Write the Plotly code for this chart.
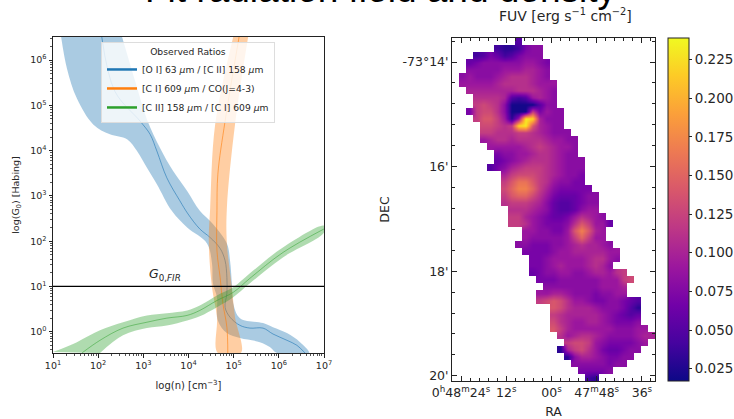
import numpy as np
import plotly.graph_objects as go

# Left panel: log10 values
BLUE_X = [2.08,2.37,2.93,3.15,3.30,3.52,3.81,3.99,4.25,4.48,4.70,4.81,4.85,4.85,4.81,4.92,5.14,5.36,5.65,5.87,6.18,6.40,6.58]
BLUE_Y = [6.51,5.31,4.65,4.36,3.99,3.40,2.89,2.60,2.27,2.08,1.84,1.57,1.20,0.85,0.54,0.32,0.14,0.08,0.08,-0.05,-0.19,-0.30,-0.47]
BLUE_LO_X = [1.18,1.31,1.53,1.89,2.26,2.64,2.86,3.08,3.30,3.63,3.97,4.41,4.52,4.54,4.63,4.65,4.85,5.14,5.58,5.80,5.96]
BLUE_LO_Y = [6.51,5.81,5.15,4.58,4.36,4.25,3.99,3.62,3.26,2.67,2.30,1.95,1.51,1.07,0.76,0.25,-0.03,-0.14,-0.23,-0.34,-0.47]
BLUE_HI_X = [2.53,2.82,3.08,3.37,3.66,3.97,4.25,4.54,4.85,4.92,4.96,4.99,5.14,5.65,5.87,6.18,6.47,6.67]
BLUE_HI_Y = [6.51,5.53,4.69,4.06,3.55,3.11,2.67,2.38,1.95,1.57,1.07,0.63,0.30,0.19,0.10,-0.03,-0.23,-0.47]

ORANGE_X = [5.12,4.81,4.65,4.63,4.63,4.70,4.76,4.85,4.87]
ORANGE_Y = [6.51,4.65,3.48,2.67,1.79,1.20,0.63,0.10,-0.47]
ORANGE_LO_X = [4.99,4.59,4.48,4.45,4.52,4.63,4.65]
ORANGE_HI_X = [5.32,5.03,4.85,4.85,4.96,5.03,5.16]
ORANGE_BAND_Y = [6.51,4.58,2.74,1.95,0.98,0.32,-0.47]

GREEN_X = [1.64,2.04,2.55,3.08,3.52,3.97,4.25,4.63,4.99,5.36,6.09,7.0]
GREEN_Y = [-0.47,-0.19,0.08,0.21,0.30,0.36,0.47,0.69,0.87,1.18,1.75,2.27]
GREEN_HI_X = [1.0,1.53,2.04,2.55,3.08,3.52,3.97,4.25,4.63,4.99,5.36,6.09,7.0]
GREEN_HI_Y = [-0.45,-0.23,0.03,0.21,0.36,0.41,0.47,0.58,0.80,0.98,1.29,1.86,2.34]
GREEN_LO_X = [2.04,2.55,3.08,3.52,3.97,4.25,4.63,4.99,5.36,6.09,7.0]
GREEN_LO_Y = [-0.47,-0.08,0.08,0.14,0.25,0.34,0.54,0.76,1.07,1.64,2.19]

G0_FIR = 10
LEGEND_NAMES = ["[O I] 63 <i>μ</i>m / [C II] 158 <i>μ</i>m", "[C I] 609 <i>μ</i>m / CO(J=4-3)", "[C II] 158 <i>μ</i>m / [C I] 609 <i>μ</i>m"]

# Right panel: FUV map, in units of 0.01, row by row from the top
FUV_START = [9,6,3,2,2,1,1,2,3,3,2,3,4,4,4,5,6,6,5,7,7,7,7,7,8,8,8,10,10,9,10,11,11,11,12,13,12,12,14,14,14,14,15,16,15,16,17,18,19]
FUV_ROWS = [
 [5],
 [4,3,3,4,7,8,8],
 [4,5,7,6,4,5,7,8,8,8],
 [6,7,8,8,8,8,8,8,9,9,8,7],
 [8,8,8,8,8,9,9,9,10,10,9,8],
 [8,9,8,8,8,9,10,11,11,11,10,9,8],
 [9,9,9,9,9,10,11,11,11,11,10,9,9,9],
 [10,10,10,10,10,10,10,11,11,11,10,9,8],
 [11,11,11,11,10,5,4,5,9,10,9,8],
 [12,13,12,11,8,2,2,2,2,5,8,8],
 [7,12,13,13,11,8,2,2,2,12,7,9,8,8],
 [12,14,14,12,9,3,9,23,22,10,8,8,8],
 [13,13,12,11,12,22,23,14,10,9,8,8],
 [12,12,11,11,11,12,12,11,10,9,8,8,8],
 [9,10,11,11,10,11,11,11,11,10,9,9,8,8],
 [9,9,9,9,9,10,11,12,11,10,9,9,8],
 [7,8,8,9,9,10,11,11,10,9,8,8],
 [6,7,8,9,10,11,11,11,10,9,8,8,8],
 [5,7,8,10,11,12,12,12,11,10,9,8,8,8],
 [10,12,13,13,13,12,11,10,9,8,8,7],
 [12,14,16,16,14,12,11,9,8,8,7,7],
 [13,15,17,17,15,12,10,8,7,7,7,7,7],
 [12,14,15,15,13,11,9,7,6,6,6,7,8,8],
 [11,12,12,12,11,10,8,6,5,5,6,7,8,8],
 [11,11,11,10,9,8,6,5,5,6,8,9,9],
 [12,12,10,9,8,7,6,6,7,9,11,10,9,8],
 [12,12,11,9,8,7,7,7,8,11,14,12,9,9,6],
 [9,9,8,8,7,7,9,14,17,14,10,9],
 [9,8,8,8,8,8,9,12,15,12,9,9],
 [8,8,7,7,7,8,8,9,10,11,10,10,9,8],
 [7,7,7,7,8,9,9,10,10,10,10,10,9,9],
 [7,7,8,9,9,9,9,9,10,11,11,9,8],
 [7,7,8,9,10,9,9,9,10,11,10,8],
 [6,7,8,8,9,9,8,8,9,10,10,9,11,12],
 [7,7,7,8,8,8,8,8,8,9,9,9,12,13],
 [8,8,8,8,8,8,8,8,9,9,9,10],
 [9,9,10,10,9,8,8,8,7,8,8,9,9],
 [12,13,14,13,11,9,9,8,7,7,8,8,7,6,5],
 [14,13,11,10,10,10,9,8,8,8,7,5,3],
 [12,11,10,10,10,10,10,9,8,7,6,5,6],
 [13,11,10,9,9,10,10,9,8,7,7,7,8],
 [14,12,10,9,9,9,9,9,9,8,8,8,9,9],
 [11,9,10,11,11,10,9,8,8,8,8,9,10,10],
 [12,13,13,12,9,8,7,7,7,7,8,9],
 [3,10,12,13,11,9,7,6,6,7,8,8],
 [3,8,10,10,9,8,7,7,8,8],
 [8,8,8,8,8,7,8,8],
 [7,7,7,7,8],
 [4,3],
]
N_COLS = 29
RA_RANGE = [86.4, 32.53]      # seconds after 0h47m
DEC_RANGE = [20.1, 13.54]     # arcmin below -73 deg
RA_TICKS = [84, 72, 60, 48, 36]
RA_LABELS = ["0<sup>h</sup>48<sup>m</sup>24<sup>s</sup>", "12<sup>s</sup>", "00<sup>s</sup>", "47<sup>m</sup>48<sup>s</sup>", "36<sup>s</sup>"]
RA_MINOR = [81.6,79.2,76.8,74.4,69.6,67.2,64.8,62.4,57.6,55.2,52.8,50.4,45.6,43.2,40.8,38.4,33.6]
DEC_TICKS = [14, 16, 18, 20]
DEC_LABELS = ["-73°14'", "16'", "18'", "20'"]
DEC_MINOR = [13.6,14.4,14.8,15.2,15.6,16.4,16.8,17.2,17.6,18.4,18.8,19.2,19.6]
CB_TICKS = [0.025,0.05,0.075,0.1,0.125,0.15,0.175,0.2,0.225]
CB_LABELS = ["0.025","0.050","0.075","0.100","0.125","0.150","0.175","0.200","0.225"]

FONT = "DejaVu Sans"
W, H = 734, 419
TEXT = "#262626"


def band(xa, ya, xb, yb, color):
    xs = np.r_[xa, xb[::-1]]
    ys = np.r_[ya, yb[::-1]]
    return go.Scatter(x=10**xs, y=10**ys, mode="lines", fill="toself", fillcolor=color,
                      line=dict(width=0, shape="spline"), showlegend=False, hoverinfo="skip", xaxis="x", yaxis="y")


def centre(x, y, color):
    return go.Scatter(x=10**np.array(x), y=10**np.array(y), mode="lines", line=dict(color=color, width=1, shape="spline"),
                      showlegend=False, hoverinfo="skip", xaxis="x", yaxis="y")


fig = go.Figure()
fig.add_trace(band(BLUE_LO_X, BLUE_LO_Y, BLUE_HI_X, BLUE_HI_Y, "rgba(31,119,180,0.38)"))
fig.add_trace(centre(BLUE_X, BLUE_Y, "rgba(31,119,180,0.6)"))
fig.add_trace(band(ORANGE_LO_X, ORANGE_BAND_Y, ORANGE_HI_X, ORANGE_BAND_Y, "rgba(255,127,14,0.38)"))
fig.add_trace(centre(ORANGE_X, ORANGE_Y, "rgba(255,127,14,0.6)"))
fig.add_trace(band(GREEN_HI_X, GREEN_HI_Y, GREEN_LO_X, GREEN_LO_Y, "rgba(44,160,44,0.38)"))
fig.add_trace(centre(GREEN_X, GREEN_Y, "rgba(44,160,44,0.5)"))
fig.add_trace(go.Scatter(x=[10, 1e7], y=[G0_FIR, G0_FIR], mode="lines", line=dict(color="black", width=1.2),
                         showlegend=False, hoverinfo="skip", xaxis="x", yaxis="y"))
for name, color in zip(LEGEND_NAMES, ["#1f77b4", "#ff7f0e", "#2ca02c"]):
    fig.add_trace(go.Scatter(x=[None], y=[None], mode="lines", name=name, line=dict(color=color, width=2.5),
                             xaxis="x", yaxis="y"))

grid = [[None] * N_COLS for _ in FUV_ROWS]
for r, (start, vals) in enumerate(zip(FUV_START, FUV_ROWS)):
    for i, v in enumerate(vals):
        grid[r][start + i] = v / 100
dx = (RA_RANGE[1] - RA_RANGE[0]) / N_COLS
dy = (DEC_RANGE[0] - DEC_RANGE[1]) / len(FUV_ROWS)
fig.add_trace(go.Heatmap(
    z=grid, x0=RA_RANGE[0] + dx / 2, dx=dx, y0=DEC_RANGE[1] + dy / 2, dy=dy, zsmooth="best",
    colorscale="Plasma", zmin=0.017, zmax=0.239, xaxis="x2", yaxis="y2", hoverongaps=False,
    colorbar=dict(x=668 / W, xanchor="left", xref="paper", y=1 - 381 / H, yanchor="bottom", yref="paper",
                  len=343 / H, lenmode="fraction", thickness=21, thicknessmode="pixels", xpad=0, ypad=0,
                  outlinewidth=1, outlinecolor="#222", tickmode="array", tickvals=CB_TICKS, ticktext=CB_LABELS,
                  ticks="outside", ticklen=3, tickcolor="#222", tickfont=dict(family=FONT, size=13.5, color=TEXT)),
))

pw = [f"10<sup>{i}</sup>" for i in range(8)]
fig.update_layout(
    width=W, height=H, margin=dict(l=0, r=0, t=0, b=0, autoexpand=False), paper_bgcolor="white", plot_bgcolor="white",
    font=dict(family=FONT, color=TEXT),
    xaxis=dict(domain=[53 / W, 324 / W], anchor="y", type="log", range=[1, 7], tickmode="array", automargin=False,
               tickvals=[10**i for i in range(1, 8)], ticktext=pw[1:], ticks="outside", ticklen=3.5,
               tickcolor="#222", showgrid=False, zeroline=False, showline=True, linecolor="#222", linewidth=1,
               mirror=True, tickfont=dict(size=9.5),
               minor=dict(ticks="outside", ticklen=2, tickcolor="#555", dtick="D1", showgrid=False),
               title=dict(text="log(n) [cm<sup>−3</sup>]", font=dict(size=10), standoff=12)),
    yaxis=dict(domain=[1 - 353 / H, 1 - 37 / H], anchor="x", type="log", range=[-0.47, 6.51], tickmode="array", automargin=False,
               tickvals=[10**i for i in range(0, 7)], ticktext=pw[:7], ticks="outside", ticklen=3.5,
               tickcolor="#222", showgrid=False, zeroline=False, showline=True, linecolor="#222", linewidth=1,
               mirror=True, tickfont=dict(size=9.5),
               minor=dict(ticks="outside", ticklen=2, tickcolor="#555", dtick="D1", showgrid=False),
               title=dict(text="log(G<sub>0</sub>) [Habing]", font=dict(size=9.5), standoff=8)),
    xaxis2=dict(domain=[452 / W, 655 / W], anchor="y2", range=RA_RANGE, tickmode="array", tickvals=RA_TICKS, automargin=False,
                ticktext=RA_LABELS, ticks="inside", ticklen=5, tickcolor="#222", showgrid=False, zeroline=False,
                showline=True, linecolor="#222", linewidth=1, mirror="ticks", tickfont=dict(size=12.5, color=TEXT),
                minor=dict(tickmode="array", tickvals=RA_MINOR, ticks="inside", ticklen=3, tickcolor="#222", showgrid=False),
                title=dict(text="RA", font=dict(size=12.5), standoff=10)),
    yaxis2=dict(domain=[1 - 381 / H, 1 - 38 / H], anchor="x2", range=DEC_RANGE, tickmode="array", tickvals=DEC_TICKS, automargin=False,
                ticktext=DEC_LABELS, ticks="inside", ticklen=5, tickcolor="#222", showgrid=False, zeroline=False,
                showline=True, linecolor="#222", linewidth=1, mirror="ticks", tickfont=dict(size=12.5, color=TEXT),
                minor=dict(tickmode="array", tickvals=DEC_MINOR, ticks="inside", ticklen=3, tickcolor="#222", showgrid=False),
                title=dict(text="DEC", font=dict(size=12.5), standoff=10)),
    showlegend=True,
    legend=dict(x=101 / W, xanchor="left", y=1 - 42 / H, yanchor="top", bgcolor="rgba(255,255,255,0.8)",
                bordercolor="#dddddd", borderwidth=1, font=dict(size=9.2), itemwidth=30, tracegroupgap=0,
                title=dict(text="Observed Ratios", side="top center", font=dict(size=9.2))),
    annotations=[
        dict(text="Fit radiation field and density", x=380 / W, y=1 + 10 / H, xref="paper", yref="paper",
             xanchor="center", yanchor="middle", showarrow=False, font=dict(family="Liberation Sans", size=37, color="black")),
        dict(text="FUV [erg s<sup>−1</sup> cm<sup>−2</sup>]", x=565 / W, y=1 - 15 / H, xref="paper", yref="paper",
             xanchor="center", yanchor="middle", showarrow=False, font=dict(size=14, color=TEXT)),
        dict(text="<i>G</i><sub>0,<i>FIR</i></sub>", x=165 / W, y=1 - 274 / H, xref="paper", yref="paper",
             xanchor="center", yanchor="middle", showarrow=False, font=dict(size=12.5, color=TEXT)),
    ],
)
fig.write_html("out.html", post_script="document.body.style.margin='0';", config={"displayModeBar": False})
